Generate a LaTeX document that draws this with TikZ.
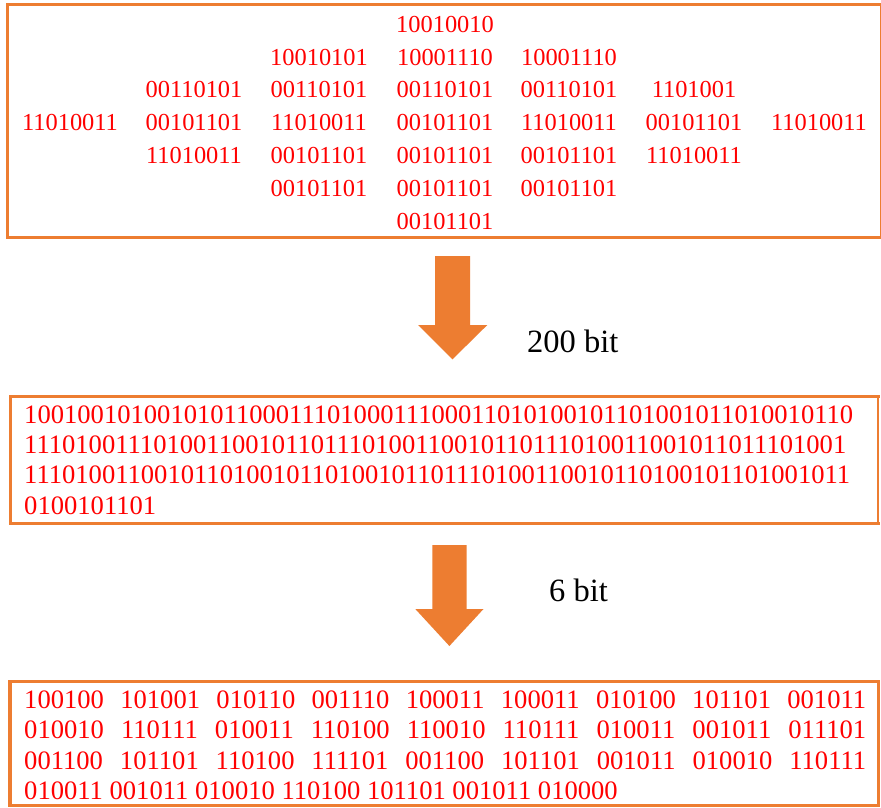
\documentclass[tikz,border=0pt]{standalone}
\usepackage{fontspec}
\setmainfont{Liberation Serif}
\definecolor{boxorange}{HTML}{ED7D31}
\definecolor{bitred}{HTML}{FF0000}
\begin{document}
\begin{tikzpicture}[x=1pt,y=-1pt,
  framebox/.style={draw=none, inner sep=0pt, fill=none},
  thickside/.style={draw=boxorange, line width=3.1pt, line cap=rect},
  thinside/.style={draw=boxorange, line width=2.2pt},
  topbits/.style={text=bitred, font=\fontsize{24.4}{26}\selectfont, inner sep=0pt, anchor=base},
  bits/.style={text=bitred, font=\fontsize{26.6}{28}\selectfont, inner sep=0pt, anchor=base west},
  bitlabel/.style={text=black, font=\fontsize{32.5}{34}\selectfont, inner sep=0pt, anchor=base west},
  blockarrow/.style={fill=boxorange, draw=none}]
\useasboundingbox (0,0) rectangle (881,808);
\fill[white] (0,0) rectangle (881,808);

% frames
\node[framebox, minimum width=873pt, minimum height=232.5pt] (box1) at (444,121.25) {};
\node[framebox, minimum width=867.2pt, minimum height=126.6pt] (box2) at (444.4,460) {};
\node[framebox, minimum width=868.1pt, minimum height=124.4pt] (box3) at (444.25,743.5) {};
\foreach \b in {box1,box2,box3}{
  \draw[thickside] (\b.north east) -- (\b.north west) -- (\b.south west) -- (\b.south east);
  \draw[thinside] (\b.north east) -- (\b.south east);
}

% top box columns
\newcommand{\rowy}[1]{32.3+#1*32.8}
\foreach \r/\t in {3/11010011}
  \node[topbits] (t1-\r) at (70,{\rowy{\r}}) {\t};
\foreach \r/\t in {2/00110101,3/00101101,4/11010011}
  \node[topbits] (t2-\r) at (194,{\rowy{\r}}) {\t};
\foreach \r/\t in {1/10010101,2/00110101,3/11010011,4/00101101,5/00101101}
  \node[topbits] (t3-\r) at (319,{\rowy{\r}}) {\t};
\foreach \r/\t in {0/10010010,1/10001110,2/00110101,3/00101101,4/00101101,5/00101101,6/00101101}
  \node[topbits] (t4-\r) at (445,{\rowy{\r}}) {\t};
\foreach \r/\t in {1/10001110,2/00110101,3/11010011,4/00101101,5/00101101}
  \node[topbits] (t5-\r) at (569,{\rowy{\r}}) {\t};
\foreach \r/\t in {2/1101001,3/00101101,4/11010011}
  \node[topbits] (t6-\r) at (694,{\rowy{\r}}) {\t};
\foreach \r/\t in {3/11010011}
  \node[topbits] (t7-\r) at (819,{\rowy{\r}}) {\t};

% arrow 1 with label
\coordinate (a1tip) at (452.5,359.3);
\fill[blockarrow] (435,256) -- (470,256) -- (470,325) -- (487.3,325) -- (a1tip) -- (418,325) -- (435,325) -- cycle;
\node[bitlabel] (lab1) at (527,352.7) {200 bit};

% 200 bit string
\node[bits] (s1) at (24,423) {100100101001010110001110100011100011010100101101001011010010110};
\node[bits] (s2) at (24,453) {111010011101001100101101110100110010110111010011001011011101001};
\node[bits] (s3) at (24,483) {111010011001011010010110100101101110100110010110100101101001011};
\node[bits] (s4) at (24,514) {0100101101};

% arrow 2 with label
\coordinate (a2tip) at (449.4,646);
\fill[blockarrow] (432.3,545) -- (466.7,545) -- (466.7,609) -- (483.5,609) -- (a2tip) -- (415.3,609) -- (432.3,609) -- cycle;
\node[bitlabel] (lab2) at (549,601) {6 bit};

% 6-bit groups
\node[bits] (g1) at (24,708) {\hbox to 842pt{100100\hfill 101001\hfill 010110\hfill 001110\hfill 100011\hfill 100011\hfill 010100\hfill 101101\hfill 001011}};
\node[bits] (g2) at (24,738.5) {\hbox to 842pt{010010\hfill 110111\hfill 010011\hfill 110100\hfill 110010\hfill 110111\hfill 010011\hfill 001011\hfill 011101}};
\node[bits] (g3) at (24,769) {\hbox to 842pt{001100\hfill 101101\hfill 110100\hfill 111101\hfill 001100\hfill 101101\hfill 001011\hfill 010010\hfill 110111}};
\node[bits] (g4) at (24,799) {010011 001011 010010 110100 101101 001011 010000};
\end{tikzpicture}
\end{document}
